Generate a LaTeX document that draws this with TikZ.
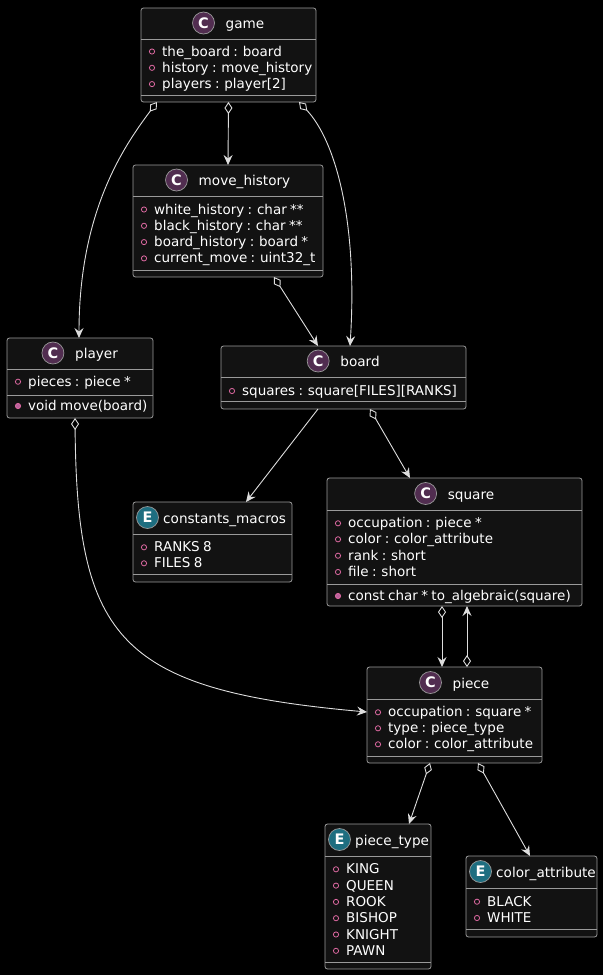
\documentclass[tikz,border=0pt]{standalone}
\usepackage{fontspec}
\setmainfont{DejaVu Sans}
\usetikzlibrary{arrows.meta,calc}
\definecolor{boxfill}{HTML}{121212}
\definecolor{boxline}{HTML}{9A9A9A}
\definecolor{conncol}{HTML}{DDDDDD}
\definecolor{markcol}{HTML}{E06AA3}
\definecolor{methfill}{HTML}{B8609A}
\definecolor{cspot}{HTML}{512D50}
\definecolor{espot}{HTML}{1E6E80}
\newcommand\rowfont{\fontsize{13.5}{15}\selectfont\spaceskip=0.25em plus 0pt minus 0pt\relax}
\tikzset{
 umlbox/.style={draw=boxline, fill=boxfill, line width=0.8pt, rounded corners=2.5pt, inner sep=0pt, outer sep=0pt, rectangle},
 divider/.style={draw=boxline, line width=0.8pt},
 nametext/.style={text=white, inner sep=0pt, font=\fontsize{13.6}{15}\selectfont},
 rowtext/.style={text=white, inner sep=0pt, font=\rowfont},
 spot/.style={draw=boxline, line width=0.7pt},
 spotletter/.style={text=white, inner sep=0pt, font=\bfseries\fontsize{14.5}{16}\selectfont},
 attrmark/.style={draw=markcol, line width=0.8pt},
 methmark/.style={draw=markcol, fill=methfill, line width=0.8pt},
 connline/.style={draw=conncol, line width=0.9pt},
 agg/.style={connline, {Diamond[open, length=12pt, width=8pt]}-{Stealth[length=10pt, width=9pt, inset=3.5pt]}},
 dep/.style={connline, -{Stealth[length=10pt, width=9pt, inset=3.5pt]}},
}
\newcommand\umlbox[5]{\node[umlbox, minimum width={#4-#2}, minimum height={#5-#3}] (#1) at ({(#2+#4)/2},{(#3+#5)/2}) {};}
\newcommand\umldiv[3]{\draw[divider] (#1,#3) -- (#2,#3);}
% centred header: circle + gap + name centred on cx
\newcommand\umlhead[6]{%
 \node[nametext, anchor=base] (#1-name) at ({#2+16.5},{#3+5}) {#6};
 \draw[spot, fill=#5] ($(#1-name.base west)+(-22,-5.5)$) circle (11);
 \node[spotletter] (#1-spot) at ($(#1-name.base west)+(-22,-5.5)$) {#4};
}
% left header for tight boxes: circle at left+14.5, name at left+30
\newcommand\umlheadL[6]{%
 \node[nametext, anchor=base west] (#1-name) at ({#2+30},{#3+5}) {#6};
 \draw[spot, fill=#5] ({#2+14.5},{#3-0.5}) circle (11);
 \node[spotletter] (#1-spot) at ({#2+14.5},{#3-0.5}) {#4};
}
\newcommand\umlattr[4]{%
 \draw[attrmark] ({#2+11},#3) circle (2.6);
 \node[rowtext, anchor=base west] (#1) at ({#2+21},{#3+4.5}) {#4};
}
\newcommand\umlmeth[4]{%
 \draw[methmark] ({#2+11},#3) circle (2.6);
 \node[rowtext, anchor=base west] (#1) at ({#2+21},{#3+4.5}) {#4};
}
\begin{document}
\begin{tikzpicture}[x=1pt,y=-1pt]
\fill[black] (0,0) rectangle (603,975);
\useasboundingbox (0,0) rectangle (603,975);

% game
\umlbox{game}{141}{8}{316}{102}
\umldiv{141}{316}{39}\umldiv{141}{316}{95}
\umlhead{game}{228.5}{23.5}{C}{cspot}{game}
\umlattr{game-a1}{141}{51.5}{the\_board : board}
\umlattr{game-a2}{141}{67.8}{history : move\_history}
\umlattr{game-a3}{141}{84.1}{players : player[2]}

% move_history
\umlbox{mh}{133}{165}{323}{277}
\umldiv{133}{323}{196}\umldiv{133}{323}{270}
\umlhead{mh}{228}{180.5}{C}{cspot}{move\_history}
\umlattr{mh-a1}{133}{209.5}{white\_history : char **}
\umlattr{mh-a2}{133}{225.8}{black\_history : char **}
\umlattr{mh-a3}{133}{242.1}{board\_history : board *}
\umlattr{mh-a4}{133}{258.4}{current\_move : uint32\_t}

% player
\umlbox{player}{7}{338}{153}{418}
\umldiv{7}{153}{369}\umldiv{7}{153}{395}
\umlhead{player}{80}{353.5}{C}{cspot}{player}
\umlattr{player-a1}{7}{381.7}{pieces : piece *}
\umlmeth{player-m1}{7}{406}{void move(board)}

% board
\umlbox{board}{221}{346}{466}{409}
\umldiv{221}{466}{377}\umldiv{221}{466}{401}
\umlhead{board}{343.5}{361.5}{C}{cspot}{board}
\umlattr{board-a1}{221}{391}{squares : square[FILES][RANKS]}

% constants_macros
\umlbox{cm}{133}{502}{292}{582}
\umldiv{133}{292}{534}\umldiv{133}{292}{574}
\umlheadL{cm}{133}{518}{E}{espot}{constants\_macros}
\umlattr{cm-a1}{133}{547.3}{RANKS 8}
\umlattr{cm-a2}{133}{563.3}{FILES 8}

% square
\umlbox{square}{327}{478}{582}{606}
\umldiv{327}{582}{510}\umldiv{327}{582}{584}
\umlhead{square}{454.5}{494}{C}{cspot}{square}
\umlattr{square-a1}{327}{523.3}{occupation : piece *}
\umlattr{square-a2}{327}{539.3}{color : color\_attribute}
\umlattr{square-a3}{327}{555.7}{rank : short}
\umlattr{square-a4}{327}{572}{file : short}
\umlmeth{square-m1}{327}{596}{const char * to\_algebraic(square)}

% piece
\umlbox{piece}{367}{667}{542}{763}
\umldiv{367}{542}{699}\umldiv{367}{542}{756}
\umlhead{piece}{454.5}{683}{C}{cspot}{piece}
\umlattr{piece-a1}{367}{712.3}{occupation : square *}
\umlattr{piece-a2}{367}{728.3}{type : piece\_type}
\umlattr{piece-a3}{367}{744.3}{color : color\_attribute}

% piece_type
\umlbox{pt}{325}{824}{431}{969}
\umldiv{325}{431}{856}\umldiv{325}{431}{962}
\umlheadL{pt}{325}{840}{E}{espot}{piece\_type}
\umlattr{pt-a1}{325}{869.3}{KING}
\umlattr{pt-a2}{325}{885.6}{QUEEN}
\umlattr{pt-a3}{325}{901.9}{ROOK}
\umlattr{pt-a4}{325}{918.2}{BISHOP}
\umlattr{pt-a5}{325}{934.5}{KNIGHT}
\umlattr{pt-a6}{325}{950.8}{PAWN}

% color_attribute
\umlbox{ca}{466}{856}{597}{937}
\umldiv{466}{597}{888}\umldiv{466}{597}{929}
\umlheadL{ca}{466}{872}{E}{espot}{color\_attribute}
\umlattr{ca-a1}{466}{901.7}{BLACK}
\umlattr{ca-a2}{466}{918}{WHITE}

% connectors
\draw[agg] ([xshift=16pt]game.south west) .. controls (125,145) and (79,210) .. ([xshift=72pt]player.north west);
\draw[agg] (game.south) -- (mh.north);
\draw[agg] ([xshift=158pt]game.south west) .. controls (335,140) and (358,220) .. ([xshift=129pt]board.north west);
\draw[agg] ([xshift=141pt]mh.south west) -- ([xshift=97pt]board.north west);
\draw[agg] ([xshift=68pt]player.south west) .. controls (77,640) and (120,690) .. ([yshift=3pt]piece.west);
\draw[dep] ([xshift=97pt]board.south west) -- ([xshift=33.5pt]cm.north);
\draw[agg] ([xshift=149pt]board.south west) -- ([xshift=83pt]square.north west);
\draw[agg] ([xshift=115pt]square.south west) -- ([xshift=75pt]piece.north west);
\draw[agg] ([xshift=100pt]piece.north west) -- ([xshift=140pt]square.south west);
\draw[agg] ([xshift=63pt]piece.south west) -- ([xshift=84pt]pt.north west);
\draw[agg] ([xshift=111pt]piece.south west) -- ([xshift=64pt]ca.north west);
\end{tikzpicture}
\end{document}
